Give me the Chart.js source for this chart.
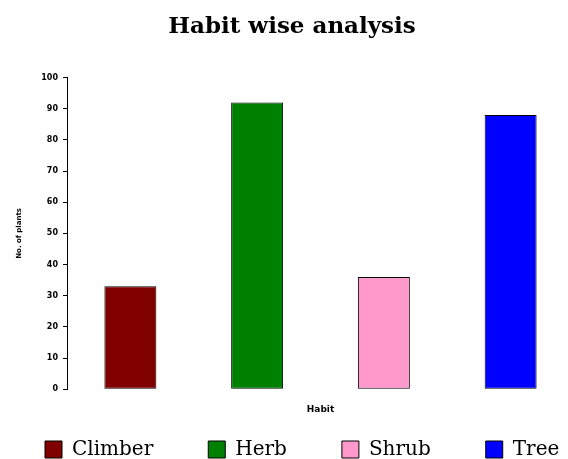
<!DOCTYPE html>
<html>
<head>
<meta charset="utf-8">
<script src="https://cdn.jsdelivr.net/npm/chart.js@4/dist/chart.umd.min.js"></script>
<style>
    body { margin: 0; background: #fff; }
    #wrap { width: 568px; height: 459px; }
</style>
</head>
<body>
<div id="wrap"><canvas id="habit-chart" width="568" height="459"></canvas></div>
<script>
// Data
const habits = ['Climber', 'Herb', 'Shrub', 'Tree'];
const plantCounts = [33, 92, 36, 88];
const barColors = ['#800000', '#008000', '#ff99cc', '#0000ff'];
const yTicks = [0, 10, 20, 30, 40, 50, 60, 70, 80, 90, 100];

const LEGEND_GAP = 55;

// The original runs its category axis a little past the right edge and puts the
// legend in one wide row, so nudge those boxes once the layout is done
const layoutTweaks = {
    id: 'layoutTweaks',
    afterLayout(chart) {
        const x = chart.scales.x;
        x.right = 574;
        x.width = x.right - x.left;
        x.configure();

        const t = chart.titleBlock;
        t.left += 8;
        t.right += 8;

        const lg = chart.legend;
        lg.left = 45 - LEGEND_GAP;
        lg.right = 2000;
        lg.top = 439.5 - LEGEND_GAP;
        lg.bottom = 459;
    }
};

const ctx = document.getElementById('habit-chart').getContext('2d');

new Chart(ctx, {
    type: 'bar',
    data: {
        labels: habits,
        datasets: [{
            label: 'No. of plants',
            data: plantCounts,
            backgroundColor: barColors,
            borderColor: '#000',
            borderWidth: 1,
            borderSkipped: false,
            barPercentage: 0.41,
            categoryPercentage: 1
        }]
    },
    plugins: [layoutTweaks],
    options: {
        responsive: false,
        animation: false,
        layout: { padding: 0 },
        plugins: {
            tooltip: { enabled: false },
            title: {
                display: true,
                text: 'Habit wise analysis',
                color: '#000',
                font: { family: 'DejaVu Serif', size: 23, weight: 'bold' },
                padding: { top: 13, bottom: 37 }
            },
            legend: {
                position: 'bottom',
                align: 'start',
                maxHeight: 30,
                labels: {
                    color: '#000',
                    font: { family: 'DejaVu Serif', size: 20 },
                    boxWidth: 17,
                    boxHeight: 17,
                    padding: LEGEND_GAP,
                    generateLabels: chart => habits.map((h, i) => ({
                        text: h,
                        fillStyle: barColors[i],
                        strokeStyle: '#000',
                        lineWidth: 1,
                        index: i
                    }))
                }
            }
        },
        scales: {
            x: {
                grid: { display: false },
                border: { display: false },
                ticks: { display: false },
                title: {
                    display: true,
                    text: 'Habit',
                    color: '#000',
                    font: { family: 'DejaVu Sans', size: 9, weight: 'bold' },
                    padding: { top: 7, bottom: 14 }
                }
            },
            y: {
                min: 0,
                max: 100,
                afterFit: scale => { scale.width = 67; },
                afterBuildTicks: scale => { scale.ticks = yTicks.map(v => ({ value: v })); },
                grid: {
                    drawOnChartArea: false,
                    drawTicks: true,
                    tickLength: 4,
                    color: '#000'
                },
                border: { display: true, color: '#000', width: 1 },
                ticks: {
                    color: '#000',
                    padding: 5,
                    font: { family: 'DejaVu Sans', size: 8, weight: 'bold' }
                },
                title: {
                    display: true,
                    text: 'No. of plants',
                    color: '#000',
                    font: { family: 'DejaVu Sans', size: 7, weight: 'bold' },
                    padding: { top: 15, bottom: 0 }
                }
            }
        }
    }
});
</script>
</body>
</html>
